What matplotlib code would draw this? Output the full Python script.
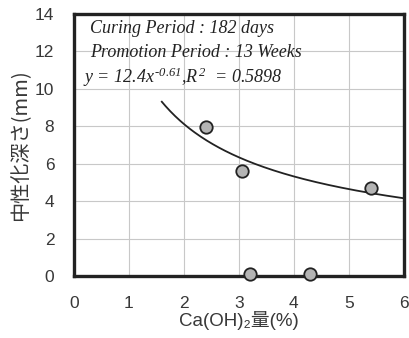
import numpy as np
import matplotlib
matplotlib.use("Agg")
import matplotlib.pyplot as plt

# Measured points
ca_oh2 = [2.4, 3.05, 3.2, 4.3, 5.4]
depth = [7.95, 5.6, 0.1, 0.1, 4.7]

# Power fit y = a * x^b
fit_a = 12.4
fit_b = -0.61
fit_x_range = [1.6, 6.0]

x_ticks = [0, 1, 2, 3, 4, 5, 6]
y_ticks = [0, 2, 4, 6, 8, 10, 12, 14]

_INK = "#222222"
_LABEL = "#383838"
_GRID = "#c8c8c8"

plt.rcParams["font.family"] = ["Liberation Sans", "Noto Sans CJK JP", "DejaVu Sans"]
plt.rcParams["mathtext.fontset"] = "custom"
plt.rcParams["mathtext.rm"] = "Liberation Serif:italic"
plt.rcParams["mathtext.it"] = "Liberation Serif:italic"

fig = plt.figure(figsize=(4.1, 3.38), dpi=100)
ax = fig.add_axes([0.180, 0.183, 0.805, 0.776])

fx = np.linspace(fit_x_range[0], fit_x_range[1], 200)
ax.plot(fx, fit_a * fx ** fit_b, color=_INK, lw=1.3, zorder=3)
ax.scatter(ca_oh2, depth, s=80, facecolor="#b4b4b4", edgecolor=_INK,
           linewidth=1.3, zorder=4, clip_on=False)

ax.set_xlim(0, 6)
ax.set_ylim(0, 14)
ax.set_xticks(x_ticks)
ax.set_yticks(y_ticks)
ax.grid(color=_GRID, linewidth=0.8)
ax.set_axisbelow(True)
for side in ax.spines.values():
    side.set_linewidth(2.4)
    side.set_color(_INK)
ax.tick_params(direction="in", length=0, labelsize=12.5, colors=_LABEL)
ax.tick_params(axis="x", pad=14)
ax.tick_params(axis="y", pad=14)

ax.set_xlabel("Ca(OH)\u2082量(%)", fontsize=13.5, color=_LABEL, labelpad=0,
              family=["Liberation Sans", "DejaVu Sans", "Noto Sans CJK JP"])
ax.set_ylabel("中性化深さ(mm)", fontsize=14.5, color=_LABEL, labelpad=3,
              family=["Noto Sans CJK JP", "DejaVu Sans"])

serif = {"family": "Liberation Serif", "style": "italic", "fontsize": 13, "color": _INK}
ax.text(0.3, 13.2, "Curing Period : 182 days", va="center", **serif)
ax.text(0.3, 11.95, "Promotion Period : 13 Weeks", va="center", **serif)
ax.text(0.17, 10.6, "y = 12.4x$^{\\,\u20100.61}$,R$^{\\,2}$  = 0.5898", va="center", **serif)

fig.savefig("out.png", dpi=100, facecolor="white")
